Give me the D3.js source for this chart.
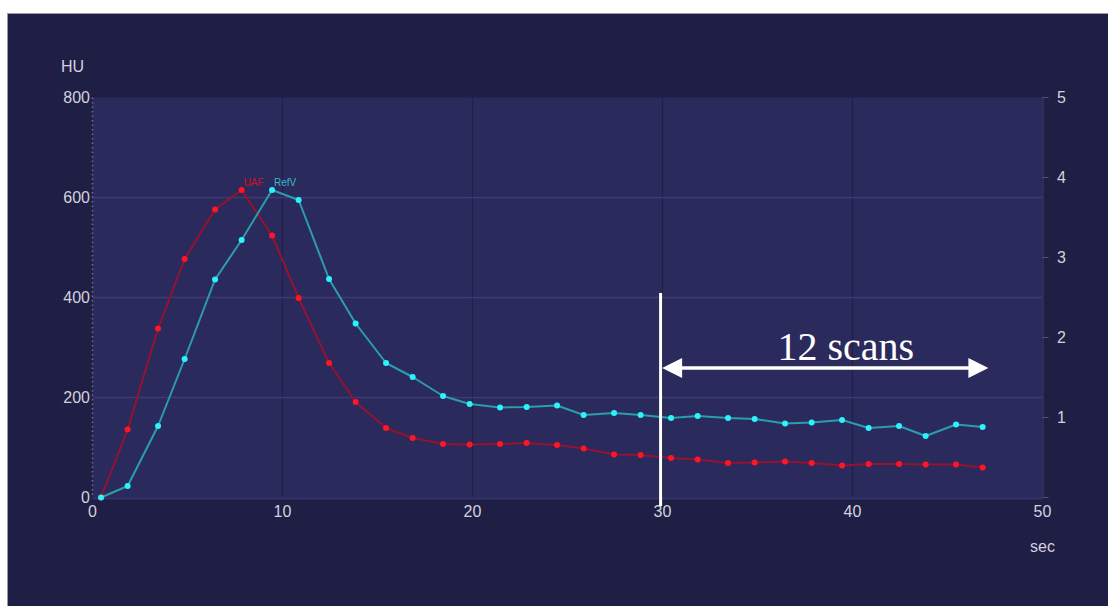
<!DOCTYPE html>
<html>
<head>
<meta charset="utf-8">
<script src="https://cdn.jsdelivr.net/npm/d3@7"></script>
<style>
  html, body { margin: 0; padding: 0; background: #ffffff; }
  svg { display: block; }
</style>
</head>
<body>
<svg id="chart" width="1108" height="606"></svg>
<script>
// Acquisition times (sec) and enhancement curves (HU)
const times = [0.45, 1.85, 3.45, 4.85, 6.45, 7.85, 9.45, 10.85, 12.45, 13.85, 15.45, 16.85,
  18.45, 19.85, 21.45, 22.85, 24.45, 25.85, 27.45, 28.85, 30.45, 31.85, 33.45, 34.85,
  36.45, 37.85, 39.45, 40.85, 42.45, 43.85, 45.45, 46.85];
const uaf = [0, 136, 338, 477, 576, 615, 524, 399, 269, 191, 139, 119, 107, 106, 107, 109,
  105, 98, 86, 85, 79, 76, 69, 70, 72, 69, 64, 67, 67, 66, 66, 60];
const refv = [0, 23, 143, 277, 436, 515, 615, 595, 437, 348, 269, 241, 203, 187, 180, 181,
  184, 165, 169, 165, 159, 163, 159, 157, 148, 150, 155, 139, 143, 123, 146, 141];
const xTicks = [0, 10, 20, 30, 40, 50];
const yTicks = [0, 200, 400, 600, 800];
const y2Ticks = [1, 2, 3, 4, 5];
const seriesNames = ["UAF", "RefV"];
// Late-phase window: 12 scans from 30 s onwards
const windowStart = 29.9, windowEnd = 47.15, windowLabel = "12 scans";

const svg = d3.select("#chart");
const W = 1108, H = 606;

// page frame
svg.append("rect").attr("width", W).attr("height", H).attr("fill", "#ffffff");
svg.append("rect").attr("x", 7).attr("y", 13).attr("width", W - 7).attr("height", H - 13)
  .attr("fill", "#1f1e45");
svg.append("line").attr("x1", 7).attr("x2", W).attr("y1", 13.5).attr("y2", 13.5)
  .attr("stroke", "#9a9aa6").attr("stroke-width", 1);
svg.append("line").attr("x1", 7.5).attr("x2", 7.5).attr("y1", 13).attr("y2", H)
  .attr("stroke", "#9a9aa6").attr("stroke-width", 1);

const x = d3.scaleLinear().domain([0, 50]).range([92.5, 1042.5]);
const y = d3.scaleLinear().domain([0, 800]).range([497.5, 97.5]);
const y2 = d3.scaleLinear().domain([0, 5]).range([497.5, 97.5]);

// plot area
svg.append("rect")
  .attr("x", x(0)).attr("y", y(800))
  .attr("width", x(50) - x(0)).attr("height", y(0) - y(800))
  .attr("fill", "#2b2a5c");

// vertical grid
svg.append("g").selectAll("line").data(xTicks.filter(d => d > 0 && d < 50)).join("line")
  .attr("x1", d => x(d)).attr("x2", d => x(d))
  .attr("y1", y(800)).attr("y2", y(0))
  .attr("stroke", "#1f1f47").attr("stroke-width", 1.2);

// horizontal grid
svg.append("g").selectAll("line").data(yTicks.filter(d => d > 0 && d < 800)).join("line")
  .attr("x1", x(0)).attr("x2", x(50))
  .attr("y1", d => y(d)).attr("y2", d => y(d))
  .attr("stroke", "#3c3b72").attr("stroke-width", 1.5);

// left axis (dotted)
svg.append("line")
  .attr("x1", x(0)).attr("x2", x(0)).attr("y1", y(800)).attr("y2", y(0))
  .attr("stroke", "#6c6c94").attr("stroke-width", 1.5).attr("stroke-dasharray", "1.5,3");

// bottom edge
svg.append("line")
  .attr("x1", x(0)).attr("x2", x(50)).attr("y1", y(0) + 1).attr("y2", y(0) + 1)
  .attr("stroke", "#34346a").attr("stroke-width", 2);

const labelFont = "'Liberation Sans', Arial, Helvetica, sans-serif";
const labelColor = "#d2d2de";
const labelSize = 16;

// left axis labels
svg.append("g").selectAll("text").data(yTicks).join("text")
  .attr("x", 90).attr("y", d => y(d))
  .attr("text-anchor", "end").attr("dominant-baseline", "central")
  .attr("font-family", labelFont).attr("font-size", labelSize).attr("fill", labelColor)
  .text(d => d);
svg.append("text").attr("x", 61).attr("y", 66).attr("dominant-baseline", "central")
  .attr("font-family", labelFont).attr("font-size", labelSize).attr("fill", labelColor).text("HU");

// bottom axis labels
svg.append("g").selectAll("text").data(xTicks).join("text")
  .attr("x", d => x(d)).attr("y", 511)
  .attr("text-anchor", "middle").attr("dominant-baseline", "central")
  .attr("font-family", labelFont).attr("font-size", labelSize).attr("fill", labelColor)
  .text(d => d);
svg.append("text").attr("x", x(50)).attr("y", 546)
  .attr("text-anchor", "middle").attr("dominant-baseline", "central")
  .attr("font-family", labelFont).attr("font-size", labelSize).attr("fill", labelColor).text("sec");

// right axis
const right = svg.append("g").attr("transform", `translate(${x(50)},0)`);
right.append("line").attr("x1", 0.5).attr("x2", 0.5).attr("y1", y2(5)).attr("y2", y2(0))
  .attr("stroke", "#3a3a66").attr("stroke-width", 1);
right.selectAll("line.tick").data([0, ...y2Ticks]).join("line").attr("class", "tick")
  .attr("x1", 0).attr("x2", 6).attr("y1", d => y2(d)).attr("y2", d => y2(d))
  .attr("stroke", "#50507a").attr("stroke-width", 1);
right.selectAll("text").data(y2Ticks).join("text")
  .attr("x", 19).attr("y", d => y2(d))
  .attr("text-anchor", "middle").attr("dominant-baseline", "central")
  .attr("font-family", labelFont).attr("font-size", labelSize).attr("fill", labelColor)
  .text(d => d);

// curves
const series = [
  { name: seriesNames[0], values: uaf, line: "#951230", dot: "#ff1624", label: "#d01028" },
  { name: seriesNames[1], values: refv, line: "#2a9eaa", dot: "#2ef2fa", label: "#38b8c4" }
];
const lineGen = d3.line().x(d => x(d[0])).y(d => y(d[1]));

series.forEach(s => {
  const pts = times.map((t, i) => [t, s.values[i]]);
  const g = svg.append("g");
  g.append("path").datum(pts)
    .attr("fill", "none").attr("stroke", s.line).attr("stroke-width", 2)
    .attr("stroke-linejoin", "round").attr("d", lineGen);
  g.selectAll("circle").data(pts).join("circle")
    .attr("cx", d => x(d[0])).attr("cy", d => y(d[1])).attr("r", 3)
    .attr("fill", s.dot);
  // name label next to the curve's peak
  const peakIdx = d3.maxIndex(s.values);
  g.append("text")
    .attr("x", x(times[peakIdx]) + 2).attr("y", y(s.values[peakIdx]) - 4)
    .attr("font-family", labelFont).attr("font-size", 10).attr("fill", s.label)
    .text(s.name);
});

// late-phase window annotation
const ann = svg.append("g");
ann.append("line")
  .attr("x1", x(windowStart)).attr("x2", x(windowStart))
  .attr("y1", y(409)).attr("y2", 506)
  .attr("stroke", "#ffffff").attr("stroke-width", 3);
const ay = y(259);
const xa = x(windowStart) + 1.5, xb = x(windowEnd);
ann.append("line").attr("x1", xa + 15).attr("x2", xb - 15).attr("y1", ay).attr("y2", ay)
  .attr("stroke", "#ffffff").attr("stroke-width", 3.5);
ann.append("path")
  .attr("d", `M${xa},${ay} L${xa + 20},${ay - 10} L${xa + 20},${ay + 10} Z`)
  .attr("fill", "#ffffff");
ann.append("path")
  .attr("d", `M${xb},${ay} L${xb - 20},${ay - 10} L${xb - 20},${ay + 10} Z`)
  .attr("fill", "#ffffff");
ann.append("text")
  .attr("x", x(39.65)).attr("y", y(275))
  .attr("text-anchor", "middle")
  .attr("font-family", "'Liberation Serif', 'Times New Roman', serif")
  .attr("font-size", 40).attr("fill", "#ffffff")
  .text(windowLabel);
</script>
</body>
</html>
